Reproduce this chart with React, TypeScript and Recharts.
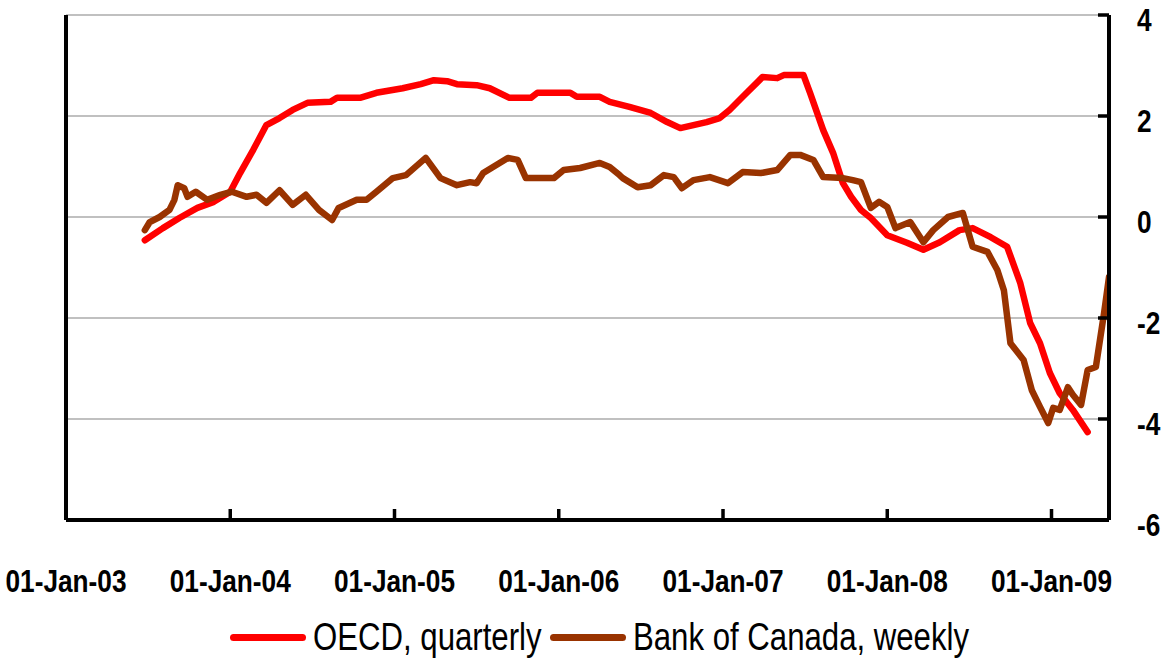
import React from 'react';
import { LineChart, Line, XAxis, YAxis, CartesianGrid } from 'recharts';

// time as decimal years, values in per cent
const oecdT = [
  2003.48, 2003.59, 2003.69, 2003.8, 2003.9, 2004.0, 2004.06, 2004.14, 2004.22, 2004.3,
  2004.38, 2004.47, 2004.61, 2004.65, 2004.79, 2004.89, 2005.05, 2005.16, 2005.24, 2005.32,
  2005.38, 2005.5, 2005.58, 2005.7, 2005.83, 2005.87, 2006.07, 2006.11, 2006.25, 2006.31,
  2006.43, 2006.56, 2006.66, 2006.74, 2006.82, 2006.9, 2006.98, 2007.04, 2007.12, 2007.21,
  2007.24, 2007.33, 2007.37, 2007.49, 2007.53, 2007.61, 2007.67, 2007.73, 2007.78, 2007.84,
  2007.9, 2008.0, 2008.12, 2008.22, 2008.32, 2008.44, 2008.52, 2008.63, 2008.73, 2008.81,
  2008.87, 2008.93, 2008.99, 2009.05, 2009.13, 2009.22,
];
const oecdV = [
  -0.46, -0.22, -0.02, 0.18, 0.3, 0.5, 0.87, 1.33, 1.82, 1.96,
  2.12, 2.26, 2.28, 2.36, 2.36, 2.46, 2.55, 2.63, 2.71, 2.69,
  2.63, 2.61, 2.55, 2.36, 2.36, 2.46, 2.46, 2.38, 2.38, 2.28,
  2.18, 2.06, 1.88, 1.76, 1.82, 1.88, 1.96, 2.12, 2.38, 2.67,
  2.77, 2.75, 2.81, 2.81, 2.46, 1.72, 1.27, 0.67, 0.4, 0.14,
  -0.02, -0.36, -0.51, -0.65, -0.5, -0.26, -0.22, -0.4, -0.59, -1.31,
  -2.1, -2.5, -3.09, -3.49, -3.82, -4.26,
];

const bocT = [
  2003.48, 2003.51, 2003.57, 2003.63, 2003.66, 2003.68, 2003.72, 2003.74, 2003.79, 2003.86,
  2003.94, 2004.01, 2004.1, 2004.16, 2004.22, 2004.3, 2004.38, 2004.46, 2004.54, 2004.62,
  2004.66, 2004.77, 2004.83, 2004.89, 2004.99, 2005.07, 2005.19, 2005.28, 2005.38, 2005.46,
  2005.5, 2005.54, 2005.6, 2005.69, 2005.75, 2005.8, 2005.91, 2005.97, 2006.03, 2006.13,
  2006.25, 2006.31, 2006.37, 2006.39, 2006.48, 2006.56, 2006.64, 2006.7, 2006.75, 2006.82,
  2006.92, 2007.03, 2007.12, 2007.23, 2007.33, 2007.41, 2007.47, 2007.55, 2007.61, 2007.73,
  2007.79, 2007.84, 2007.9, 2007.95, 2008.0, 2008.05, 2008.14, 2008.22, 2008.28, 2008.37,
  2008.46, 2008.52, 2008.61, 2008.67, 2008.71, 2008.75, 2008.83, 2008.88, 2008.93, 2008.98,
  2009.01, 2009.05, 2009.1, 2009.13, 2009.18, 2009.22, 2009.27, 2009.32, 2009.35,
];
const bocV = [
  -0.26, -0.1, 0.0, 0.14, 0.34, 0.63, 0.57, 0.4, 0.5, 0.34,
  0.44, 0.5, 0.4, 0.44, 0.28, 0.53, 0.24, 0.44, 0.14, -0.06,
  0.18, 0.34, 0.34, 0.5, 0.77, 0.83, 1.17, 0.77, 0.63, 0.69,
  0.67, 0.87, 0.99, 1.17, 1.13, 0.77, 0.77, 0.77, 0.93, 0.97,
  1.07, 0.99, 0.83, 0.77, 0.59, 0.63, 0.83, 0.79, 0.57, 0.73,
  0.79, 0.67, 0.89, 0.87, 0.93, 1.23, 1.23, 1.13, 0.79, 0.77,
  0.73, 0.69, 0.18, 0.3, 0.2, -0.22, -0.1, -0.5, -0.26, 0.0,
  0.08, -0.59, -0.69, -1.05, -1.45, -2.5, -2.83, -3.43, -3.76, -4.08,
  -3.78, -3.82, -3.37, -3.52, -3.72, -3.03, -2.97, -1.9, -1.19,
];

const seriesNames = ['OECD, quarterly', 'Bank of Canada, weekly'];
const seriesColors = ['#ff0000', '#993300'];
const xTicks = [2003, 2004, 2005, 2006, 2007, 2008, 2009];
const yTicks = [-6, -4, -2, 0, 2, 4];

const oecdData = oecdT.map((t, i) => ({ t, v: oecdV[i] }));
const bocData = bocT.map((t, i) => ({ t, v: bocV[i] }));

// no narrow font installed, so squeeze Liberation Sans horizontally
const FONT = '"Liberation Sans", Arial, sans-serif';
const SQUEEZE = 0.82;

const fmtDate = (y: number) => `01-Jan-${String(y).slice(2)}`;

const XTick = ({ x, y, payload }: any) => (
  <g transform={`translate(${x},${y}) scale(${SQUEEZE},1)`}>
    <text x={0} y={0} dy="0.71em" textAnchor="middle" fontFamily={FONT} fontWeight="bold" fontSize={32} fill="#000">
      {fmtDate(payload.value)}
    </text>
  </g>
);

const YTick = ({ x, y, payload }: any) => (
  <g transform={`translate(${x},${y + 4}) scale(${SQUEEZE},1)`}>
    <text x={0} y={0} dy="0.36em" textAnchor="start" fontFamily={FONT} fontWeight="bold" fontSize={32} fill="#000">
      {payload.value}
    </text>
  </g>
);

const legendLeft = [230, 550];

export default function App() {
  return (
    <div style={{ position: 'absolute', left: 0, top: 0, width: 1171, height: 660, background: '#fff' }}>
      <LineChart width={1171} height={660} margin={{ top: 15, right: 0, bottom: 0, left: 0 }}>
        <CartesianGrid yAxisId="r" vertical={false} stroke="#c0c0c0" strokeWidth={2} />
        <XAxis
          dataKey="t"
          type="number"
          domain={[2003, 2009.35]}
          ticks={xTicks}
          allowDataOverflow
          height={140}
          axisLine={{ stroke: '#000', strokeWidth: 4 }}
          tickLine={{ stroke: '#000', strokeWidth: 3.5 }}
          tickSize={-11}
          tickMargin={60}
          tick={<XTick />}
        />
        <YAxis
          yAxisId="l"
          orientation="left"
          width={66}
          domain={[-6, 4]}
          ticks={yTicks}
          axisLine={{ stroke: '#000', strokeWidth: 4 }}
          tickLine={{ stroke: '#000', strokeWidth: 3.5 }}
          tickSize={-11}
          tick={() => <g />}
        />
        <YAxis
          yAxisId="r"
          orientation="right"
          width={62}
          domain={[-6, 4]}
          ticks={yTicks}
          axisLine={{ stroke: '#000', strokeWidth: 4 }}
          tickLine={{ stroke: '#000', strokeWidth: 3.5 }}
          tickSize={-11}
          tickMargin={39}
          tick={<YTick />}
        />
        <Line
          yAxisId="r"
          data={oecdData}
          dataKey="v"
          name={seriesNames[0]}
          stroke={seriesColors[0]}
          strokeWidth={6.5}
          strokeLinecap="round"
          strokeLinejoin="round"
          dot={false}
          isAnimationActive={false}
        />
        <Line
          yAxisId="r"
          data={bocData}
          dataKey="v"
          name={seriesNames[1]}
          stroke={seriesColors[1]}
          strokeWidth={6.5}
          strokeLinecap="round"
          strokeLinejoin="round"
          dot={false}
          isAnimationActive={false}
        />
      </LineChart>
      {seriesNames.map((n, i) => (
        <div
          key={n}
          style={{
            position: 'absolute',
            left: legendLeft[i],
            top: 615,
            height: 44,
            display: 'flex',
            alignItems: 'center',
            fontFamily: FONT,
            fontSize: 38,
            color: '#000',
            whiteSpace: 'nowrap',
          }}
        >
          <span
            style={{
              display: 'inline-block',
              width: 76,
              height: 7,
              borderRadius: 3.5,
              background: seriesColors[i],
              marginRight: 7,
            }}
          />
          <span style={{ display: 'inline-block', transform: `scaleX(${SQUEEZE})`, transformOrigin: 'left center' }}>{n}</span>
        </div>
      ))}
    </div>
  );
}
